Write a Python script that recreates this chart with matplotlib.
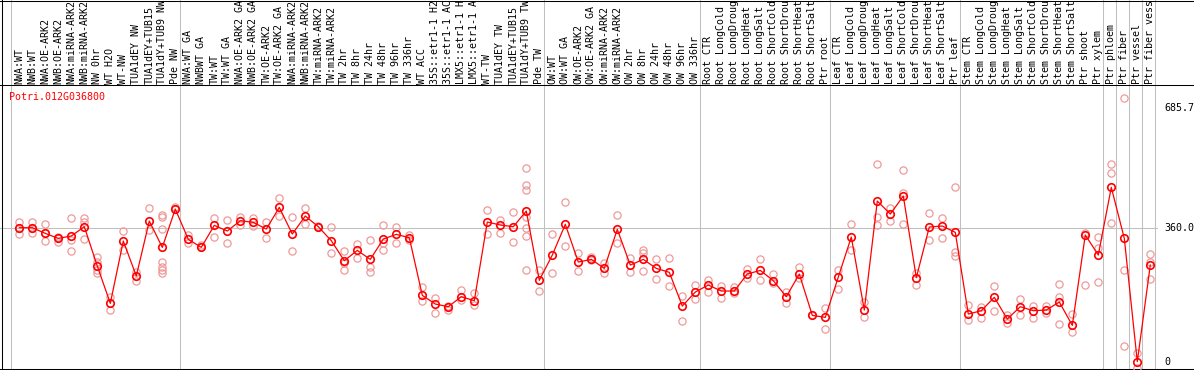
import matplotlib
matplotlib.use("Agg")
import matplotlib.pyplot as plt
import numpy as np

gene = "Potri.012G036800"

labels = [
    "NWA:WT", "NWB:WT", "NWA:OE-ARK2", "NWB:OE-ARK2", "NWA:miRNA-ARK2", "NWB:miRNA-ARK2",
    "NW 0hr", "WT H2O", "WT-NW", "TUA1dEY NW", "TUA1dEY+TUB15", "TUA1dY+TUB9 NW", "Pde NW",
    "NWA:WT GA", "NWBWT GA", "TW:WT", "TW:WT GA", "NWA:OE-ARK2 GA", "NWB:OE-ARK2 GA",
    "TW:OE-ARK2", "TW:OE-ARK2 GA", "NWA:miRNA-ARK2", "NWB:miRNA-ARK2", "TW:miRNA-ARK2",
    "TW:miRNA-ARK2", "TW 2hr", "TW 8hr", "TW 24hr", "TW 48hr", "TW 96hr", "TW 336hr",
    "WT ACC", "35S::etr1-1 H2", "35S::etr1-1 AC", "LMX5::etr1-1 H", "LMX5::etr1-1 A",
    "WT-TW", "TUA1dEY TW", "TUA1dEY+TUB15", "TUA1dY+TUB9 TW", "Pde TW",
    "OW:WT", "OW:WT GA", "OW:OE-ARK2", "OW:OE-ARK2 GA", "OW:miRNA-ARK2", "OW:miRNA-ARK2",
    "OW 2hr", "OW 8hr", "OW 24hr", "OW 48hr", "OW 96hr", "OW 336hr",
    "Root CTR", "Root LongCold", "Root LongDroug", "Root LongHeat", "Root LongSalt",
    "Root ShortCold", "Root ShortDrou", "Root ShortHeat", "Root ShortSalt", "Ptr root",
    "Leaf CTR", "Leaf LongCold", "Leaf LongDroug", "Leaf LongHeat", "Leaf LongSalt",
    "Leaf ShortCold", "Leaf ShortDrou", "Leaf ShortHeat", "Leaf ShortSalt", "Ptr leaf",
    "Stem CTR", "Stem LongCold", "Stem LongDroug", "Stem LongHeat", "Stem LongSalt",
    "Stem ShortCold", "Stem ShortDrou", "Stem ShortHeat", "Stem ShortSalt", "Ptr shoot",
    "Ptr xylem", "Ptr phloem", "Ptr fiber", "Ptr vessel", "Ptr fiber vess",
]

means = [
    361.6, 361.6, 346.3, 332.8, 339.1, 364.3, 258.1, 157.4, 325.6, 231.2, 379.6, 308.5, 411.9,
    330.1, 308.5, 367.9, 352.6, 380.5, 376.0, 358.0, 416.4, 344.5, 393.1, 364.3, 326.5,
    272.5, 300.4, 276.1, 331.0, 343.6, 334.6, 179.0, 155.6, 148.4, 175.4, 164.6,
    376.9, 368.8, 364.3, 406.5, 219.5,
    287.8, 370.6, 268.9, 276.1, 251.8, 357.1, 260.8, 276.1, 251.8, 241.1, 150.2, 188.0,
    206.9, 190.7, 190.7, 236.6, 246.4, 218.6, 175.4, 236.6, 125.0, 119.6,
    228.5, 336.4, 139.4, 433.5, 398.4, 447.0, 226.7, 363.4, 366.1, 349.0,
    128.6, 137.6, 173.6, 115.1, 148.4, 137.6, 139.4, 161.0, 98.0, 341.8, 287.8,
    470.4, 332.8, 0.0, 260.8,
]

replicates = [
    [377.8, 361.6, 343.6], [377.8, 346.3, 359.8], [371.5, 325.6, 346.3], [337.3, 323.8, 332.8],
    [386.8, 328.3, 298.6], [386.8, 377.8, 331.0], [283.3, 269.8, 247.3, 238.4], [173.6, 139.4],
    [353.5, 301.3], [242.8, 218.6], [413.7, 355.3],
    [395.8, 391.3, 358.0, 269.8, 256.3, 247.3, 240.1], [418.2, 411.9],
    [341.8, 319.3], [314.8, 310.3], [386.8, 337.3], [382.3, 319.3], [391.3, 368.8],
    [388.6, 366.1], [377.8, 334.6], [442.5, 393.1], [391.3, 298.6], [413.7, 370.6],
    [366.1, 364.3], [364.3, 292.3], [299.5, 265.3, 247.3], [316.6, 280.6],
    [328.3, 256.3, 242.8], [368.8, 319.3, 301.3], [364.3, 321.1], [341.8, 328.3],
    [202.4, 164.6], [170.9, 130.4], [150.2, 139.4], [193.4, 166.4], [186.2, 152.9],
    [409.2, 344.5], [382.3, 346.3], [402.9, 322.0],
    [521.7, 476.7, 463.2, 391.3, 359.8, 339.1, 247.3], [247.3, 190.7],
    [344.5, 240.1], [429.9, 312.1], [292.3, 244.6], [283.3, 274.3], [265.3, 240.1],
    [394.9, 319.3], [278.8, 241.1], [301.3, 292.3, 244.6], [276.1, 222.2], [278.8, 204.2],
    [177.2, 109.7], [206.9, 169.1],
    [220.4, 188.9], [205.1, 170.9], [202.4, 184.4], [250.0, 226.7], [277.0, 220.4],
    [235.7, 213.2], [187.1, 157.4], [256.3, 224.9], [125.9], [143.9, 88.1],
    [247.3, 195.2], [370.6, 301.3], [161.9, 121.4], [533.4, 391.3, 368.8], [413.7, 380.5],
    [517.2, 454.2, 371.5], [238.4, 206.9], [400.2, 328.3], [386.8, 332.8],
    [470.4, 295.0, 286.0],
    [152.9, 112.4], [148.4, 116.9], [204.2, 137.6], [125.9, 105.2], [169.1, 125.9],
    [151.1, 116.9], [151.1, 130.4], [208.7, 175.4, 100.7], [128.6, 80.9], [346.3, 206.9],
    [337.3, 305.8, 214.1],
    [533.4, 508.2, 373.3], [710.6, 247.3, 42.3], [22.5, -18.0], [290.5, 269.8, 223.1],
]

group_ends = [0, 13, 41, 53, 63, 73, 84, 85, 86, 87, 88]
yticks = [0, 360, 685.7]
ytick_labels = ["0", "360.0", "685.7"]

# ---------------- layout (pixel geometry of the reference) ----------------
W, H = 1194, 370
X0, DX = 19.3, 13.0          # pixel x of first sample, spacing
Y0, SCALE = 361.7, 0.3706    # pixel y of value 0, pixels per unit

def px2x(px):
    return 1 + (px - X0) / DX

def px2y(py):
    return (Y0 - py) / SCALE

fig = plt.figure(figsize=(W / 100, H / 100), dpi=100)
ax = fig.add_axes([0, 0, 1, 1])
ax.set_xlim(px2x(0), px2x(W))
ax.set_ylim(px2y(H), px2y(0))
ax.axis("off")

mono = "DejaVu Sans Mono"
fs = 7.2
gray = "#C0C0C0"
lw = 0.75

# vertical group separators (full height)
for k in group_ends:
    ax.axvline(k + 0.36, color=gray, lw=lw, zorder=1)

# horizontal grid at 360
ax.axhline(360, xmin=0, xmax=1157 / W, color=gray, lw=lw, zorder=1)

# borders
ax.axhline(px2y(85), color="black", lw=lw, zorder=2)
ax.axhline(px2y(0.5), color="black", lw=lw, zorder=2)
ax.axhline(px2y(369), color="black", lw=lw, zorder=2)
ax.axvline(px2x(1.5), color="black", lw=lw, zorder=2)

x = np.arange(1, len(means) + 1)

# replicates
rx, ry = [], []
for i, reps in enumerate(replicates):
    for v in reps:
        rx.append(i + 1)
        ry.append(v)
ax.plot(rx, ry, linestyle="none", marker="o", markersize=5.2, markerfacecolor="none",
        markeredgecolor="#EE9A9A", markeredgewidth=0.9, zorder=3)

# mean line + markers
ax.plot(x, means, color="#FF0000", lw=0.9, zorder=4)
ax.plot(x, means, linestyle="none", marker="o", markersize=5.4, markerfacecolor="none",
        markeredgecolor="#FF0000", markeredgewidth=1.2, zorder=5)

# sample labels (vertical, clipped by figure top)
for i, lab in enumerate(labels):
    ax.text(i + 1, px2y(83.5), lab, rotation=90, ha="center", va="bottom",
            fontsize=fs, family=mono, color="black", zorder=6)

# gene name
ax.text(px2x(9), px2y(97), gene, ha="left", va="center", fontsize=fs,
        family=mono, color="#FF0000", zorder=6)

# right-side value labels
for v, lab in zip(yticks, ytick_labels):
    ax.text(px2x(1164), v, lab, ha="left", va="center", fontsize=fs,
            family=mono, color="black", zorder=6)

fig.savefig("out.png", dpi=100, facecolor="white")
